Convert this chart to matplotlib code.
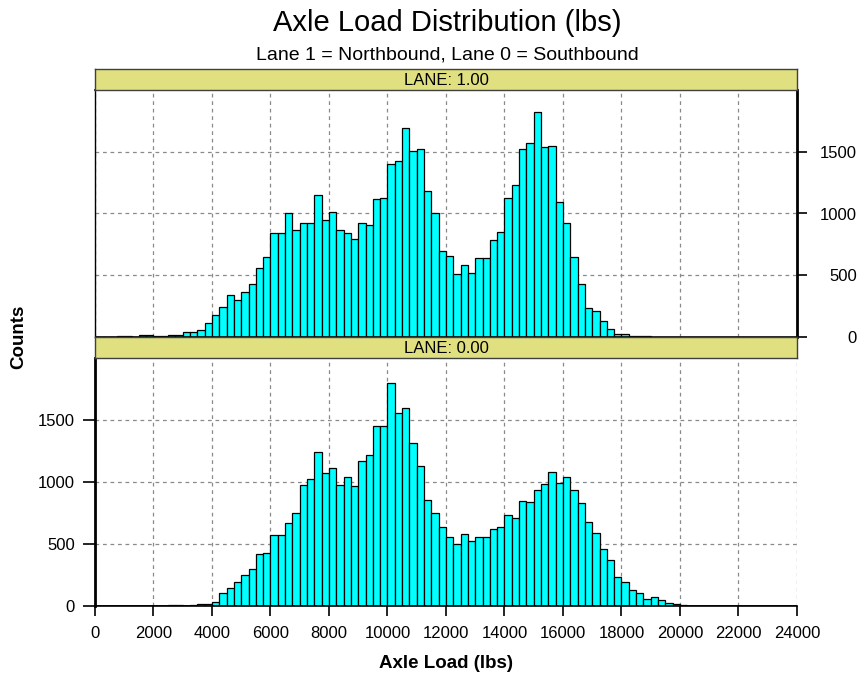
import matplotlib
matplotlib.use("Agg")
import matplotlib.pyplot as plt
import numpy as np

plt.rcParams['font.family'] = ['Liberation Sans', 'DejaVu Sans']

# bin left edges (lbs), bin width 250
bin_width = 250
lane1_edges = list(range(0, 19000, 250))
lane1_counts = [0, 0, 0, 5, 5, 0, 20, 20, 5, 5, 20, 20, 38, 38, 60, 116,
                176, 243, 343, 303, 365, 432, 559, 649, 843, 843, 1003, 865,
                924, 924, 1149, 951, 1014, 865, 843, 797, 924, 905, 1114, 1122,
                1397, 1427, 1692, 1505, 1524, 1181, 1005, 697, 659, 514, 584, 522,
                638, 638, 786, 854, 1122, 1230, 1524, 1568, 1819, 1535, 1543, 1092,
                924, 649, 432, 235, 208, 130, 68, 27, 27, 8, 8, 8]

lane0_edges = list(range(0, 20250, 250))
lane0_counts = [0, 0, 0, 0, 0, 0, 0, 0, 0, 0, 8, 8, 0, 8, 16, 16,
                35, 103, 144, 195, 250, 301, 420, 429, 570, 570, 670, 746,
                976, 1025, 1239, 1074, 1115, 976, 1044, 968, 1172, 1220, 1448, 1448,
                1795, 1554, 1597, 1318, 1131, 854, 749, 637, 559, 502, 580, 521,
                559, 559, 618, 637, 730, 708, 846, 838, 933, 985, 1082, 995,
                1044, 933, 833, 678, 589, 461, 372, 233, 193, 127, 103, 57,
                73, 46, 27, 16, 5]

x_ticks = list(range(0, 24001, 2000))
y_ticks = [0, 500, 1000, 1500]

bar_color = '#00FFFF'
strip_color = '#E0E080'
grid_kw = dict(color='#8a8a8a', linestyle=(0, (3, 3)), linewidth=0.9)
tick_fs = 12

fig = plt.figure(figsize=(8.62, 6.77), dpi=100)

L, W = 95 / 862, 702 / 862
def fy(px):
    return 1 - px / 677

def pt(px):
    return px * 0.72

ax_top = fig.add_axes([L, fy(337), W, fy(90) - fy(337)])
ax_bot = fig.add_axes([L, fy(606), W, fy(358) - fy(606)])
strip1 = fig.add_axes([L, fy(90), W, fy(69) - fy(90)])
strip2 = fig.add_axes([L, fy(358), W, fy(337) - fy(358)])

for ax, edges, counts in [(ax_top, lane1_edges, lane1_counts),
                          (ax_bot, lane0_edges, lane0_counts)]:
    ax.bar(edges, counts, width=bin_width, align='edge', color=bar_color,
           edgecolor='black', linewidth=0.9, zorder=3)
    ax.set_xlim(0, 24000)
    ax.set_ylim(0, 2000)
    ax.set_xticks(x_ticks)
    ax.set_yticks(y_ticks)
    ax.set_axisbelow(True)
    ax.grid(True, **grid_kw)
    ax.axhline(0, color='black', linewidth=1.2, zorder=4)

# top panel: labels on right, right-aligned
ax_top.yaxis.tick_right()
ax_top.tick_params(axis='y', direction='out', length=pt(10), width=1.2,
                   pad=pt(50), labelsize=tick_fs)
for lab in ax_top.get_yticklabels():
    lab.set_horizontalalignment('right')
ax_top.tick_params(axis='x', bottom=False, labelbottom=False)
ax_top.spines['right'].set_linewidth(2)
ax_top.spines['left'].set_linewidth(1)
ax_top.spines['top'].set_linewidth(1.2)
ax_top.spines['bottom'].set_visible(False)

# bottom panel
ax_bot.tick_params(axis='y', direction='out', length=pt(12), width=1.2,
                   pad=pt(8), labelsize=tick_fs)
ax_bot.tick_params(axis='x', direction='out', length=pt(10), width=1.2,
                   pad=pt(10), labelsize=tick_fs)
ax_bot.spines['left'].set_linewidth(2)
ax_bot.spines['right'].set_visible(False)
ax_bot.spines['top'].set_visible(False)
ax_bot.spines['bottom'].set_linewidth(1.2)

for s, txt in [(strip1, 'LANE: 1.00'), (strip2, 'LANE: 0.00')]:
    s.set_facecolor(strip_color)
    s.set_xticks([])
    s.set_yticks([])
    for sp in s.spines.values():
        sp.set_color('#404040')
        sp.set_linewidth(1)
    s.text(0.5, 0.45, txt, ha='center', va='center', fontsize=12,
           transform=s.transAxes)

fig.text(447 / 862, fy(23), 'Axle Load Distribution (lbs)', ha='center',
         va='center', fontsize=21)
fig.text(447 / 862, fy(55), 'Lane 1 = Northbound, Lane 0 = Southbound',
         ha='center', va='center', fontsize=14)
fig.text(446 / 862, fy(663), 'Axle Load (lbs)', ha='center', va='center',
         fontsize=13.5, fontweight='bold')
fig.text(19 / 862, fy(337), 'Counts', ha='center', va='center', rotation=90,
         fontsize=13.5, fontweight='bold')

fig.savefig('out.png', dpi=100)
